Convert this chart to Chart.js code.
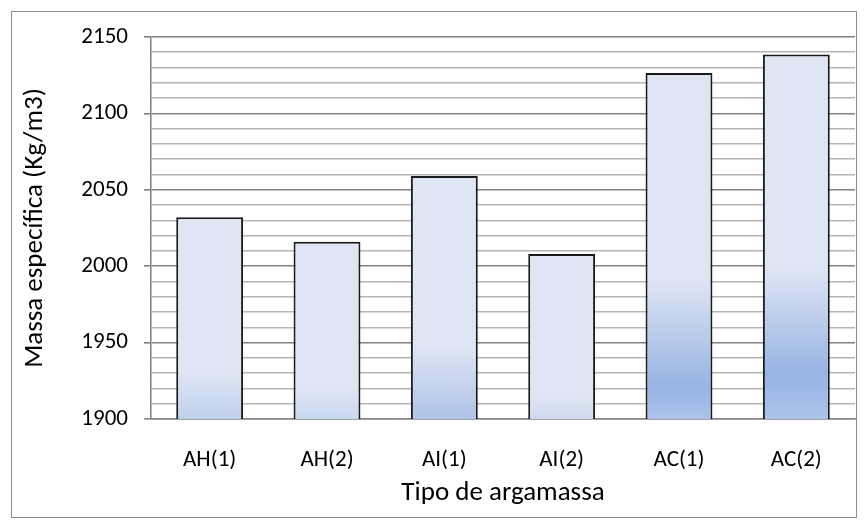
<!DOCTYPE html>
<html>
<head>
<meta charset="utf-8">
<script src="https://cdn.jsdelivr.net/npm/chart.js@4.4.1/dist/chart.umd.min.js"></script>
<style>
  html, body { margin: 0; padding: 0; background: #fff; }
  #wrap { width: 867px; height: 527px; }
</style>
</head>
<body>
<div id="wrap"><canvas id="densityChart" width="867" height="527"></canvas></div>
<script>
// Massa específica por tipo de argamassa
const categories = ['AH(1)', 'AH(2)', 'AI(1)', 'AI(2)', 'AC(1)', 'AC(2)'];
const density = [2032, 2016, 2059, 2008, 2126.5, 2138.5];
const yTicks = [1900, 1950, 2000, 2050, 2100, 2150];

const FONT = 'Carlito, Calibri, Lato, sans-serif';
const LIGHT = [223, 230, 243];
const DARK = [152, 180, 227];

const rgb = (c) => `rgb(${c.map(Math.round).join(',')})`;
const mix = (a, b, t) => a.map((v, i) => v + (b[i] - v) * t);

// per-bar gradient: pale on top, blue towards the base
const barFill = (ctx) => {
  const chart = ctx.chart;
  const y = chart.scales.y;
  if (!chart.chartArea || !y) return rgb(LIGHT);
  const top = y.getPixelForValue(density[ctx.dataIndex]);
  const base = y.getPixelForValue(yTicks[0]);
  const h = base - top;
  const lightEnd = 81 + 0.36 * h;
  const darkAt = lightEnd + 107;
  const g = chart.ctx.createLinearGradient(0, top, 0, base);
  const f = (v) => Math.min(1, Math.max(0, v / h));
  g.addColorStop(0, rgb(LIGHT));
  g.addColorStop(f(lightEnd), rgb(LIGHT));
  if (darkAt < h) {
    g.addColorStop(f(darkAt), rgb(DARK));
    g.addColorStop(1, 'rgb(172,194,234)');
  } else {
    g.addColorStop(1, rgb(mix(LIGHT, DARK, (h - lightEnd) / 107)));
  }
  return g;
};

const frame = {
  id: 'frame',
  afterDraw(chart) {
    const c = chart.ctx;
    c.save();
    c.strokeStyle = '#8c8c8c';
    c.lineWidth = 1;
    c.strokeRect(11.5, 11.5, 845, 506);
    c.restore();
  }
};

new Chart(document.getElementById('densityChart').getContext('2d'), {
  type: 'bar',
  data: {
    labels: categories,
    datasets: [{
      data: density,
      backgroundColor: barFill,
      borderColor: '#1a1a1a',
      borderWidth: 2,
      borderSkipped: false,
      categoryPercentage: 1,
      barPercentage: 0.57,
    }],
  },
  options: {
    responsive: false,
    animation: false,
    layout: { padding: { top: 37, right: 12, left: 0, bottom: 0 } },
    plugins: { legend: { display: false }, tooltip: { enabled: false } },
    scales: {
      x: {
        grid: { display: false },
        border: { display: true, color: '#868686', width: 1.5 },
        ticks: { color: '#000', font: { family: FONT, size: 23 }, padding: 19 },
        title: { display: true, text: 'Tipo de argamassa', color: '#000', font: { family: FONT, size: 27 }, padding: { top: 0, bottom: 18 } },
        afterFit: (s) => { s.height = 108; },
      },
      y: {
        min: 1900,
        max: 2150,
        ticks: {
          stepSize: 10,
          autoSkip: false,
          color: '#000',
          font: { family: FONT, size: 23 },
          padding: 16,
          callback: (v) => (yTicks.includes(v) ? v : ''),
        },
        grid: {
          color: (c) => (yTicks.includes(c.tick.value) ? '#808080' : '#b5b5b5'),
          lineWidth: 1.6,
          tickLength: 7,
          tickColor: (c) => (yTicks.includes(c.tick.value) ? '#808080' : 'rgba(0,0,0,0)'),
        },
        border: { display: true, color: '#868686', width: 1.6 },
        title: { display: true, text: 'Massa específica (Kg/m3)', color: '#000', font: { family: FONT, size: 27 }, padding: { top: 19 } },
        afterFit: (s) => { s.width = 151; },
      },
    },
  },
  plugins: [frame],
});
</script>
</body>
</html>
